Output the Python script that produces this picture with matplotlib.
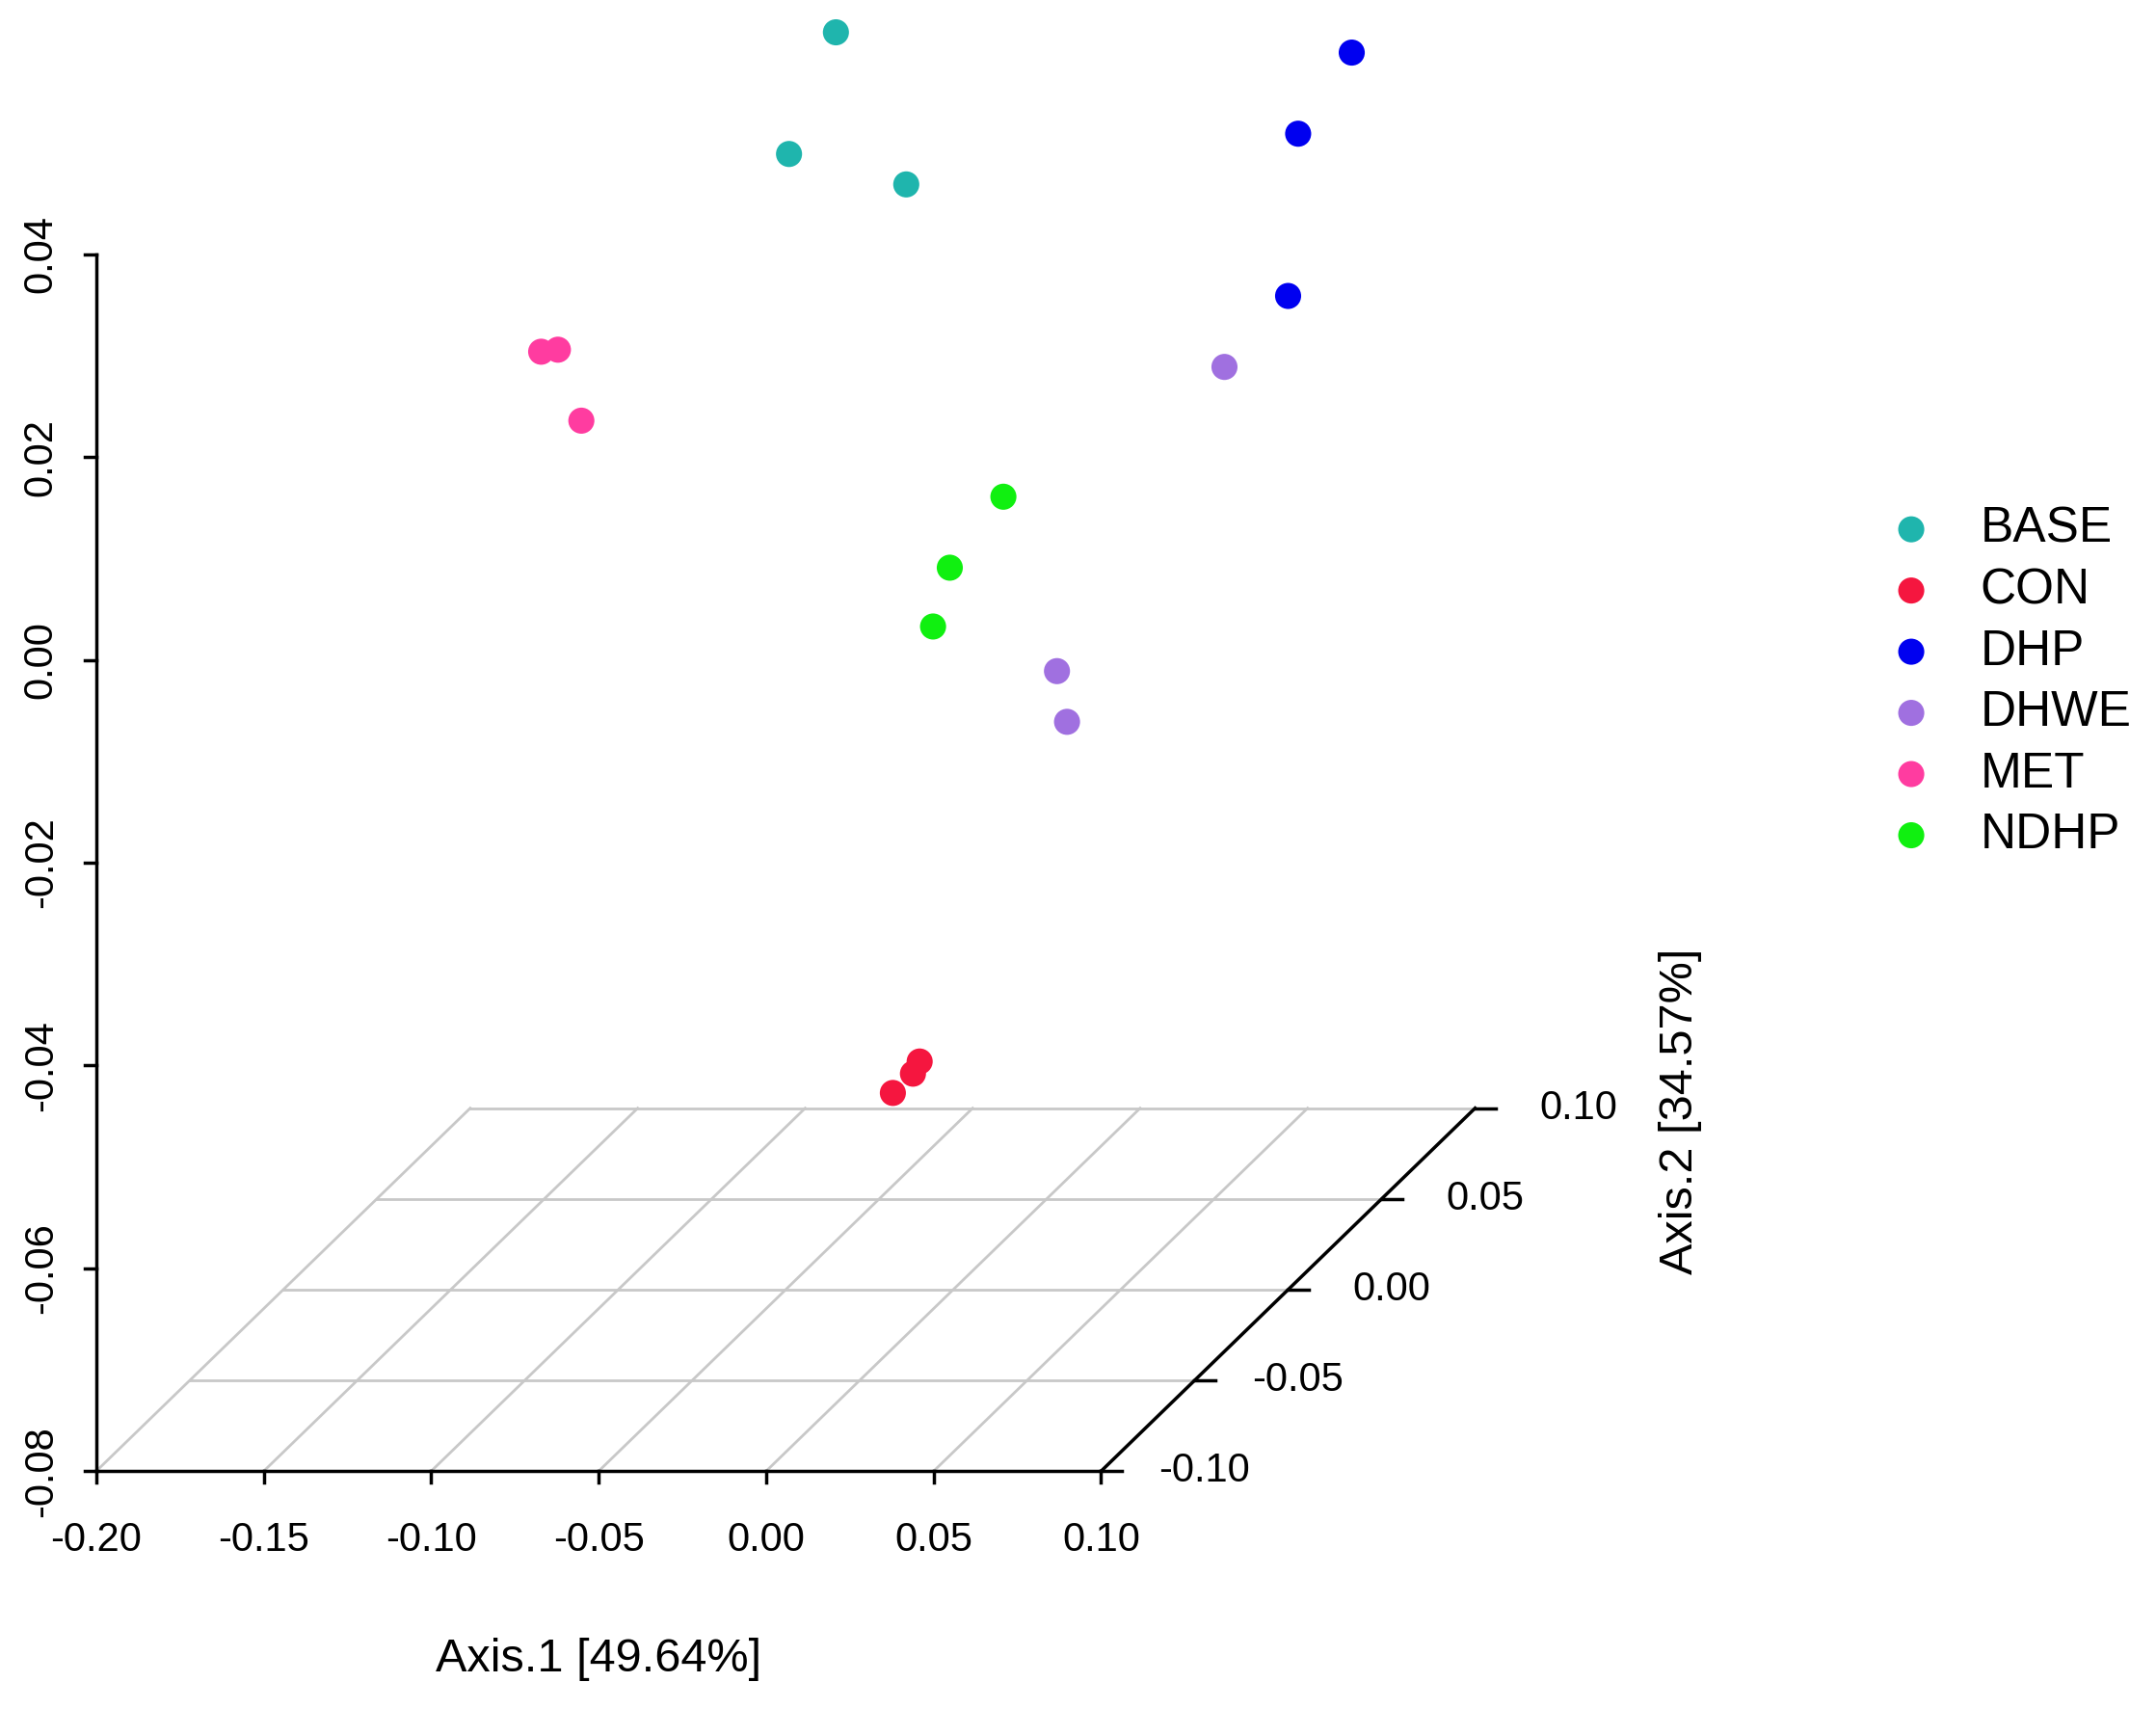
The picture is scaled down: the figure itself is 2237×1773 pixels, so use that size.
import numpy as np
import matplotlib
matplotlib.use('Agg')
import matplotlib.pyplot as plt

# PCoA scores (Axis.1, Axis.2 depth, Axis.3 vertical)
groups = ['BASE', 'CON', 'DHP', 'DHWE', 'MET', 'NDHP']
colors = ['#1FB5AD', '#F5163F', '#0000F0', '#A070E0', '#FF3CA0', '#10F010']
ax1 = {
    'BASE': [-0.035, -0.049, -0.014],
    'CON': [-0.010, -0.012, -0.018],
    'DHP': [0.119, 0.103, 0.100],
    'DHWE': [0.081, 0.031, 0.034],
    'MET': [-0.123, -0.118, -0.111],
    'NDHP': [0.015, -0.001, -0.006],
}
ax2 = {g: [0.0, 0.0, 0.0] for g in groups}
ax3 = {
    'BASE': [0.044, 0.032, 0.029],
    'CON': [-0.0575, -0.0587, -0.0606],
    'DHP': [0.042, 0.034, 0.018],
    'DHWE': [0.011, -0.019, -0.024],
    'MET': [0.0125, 0.0127, 0.0057],
    'NDHP': [-0.0018, -0.0088, -0.0146],
}
xticks = [-0.20, -0.15, -0.10, -0.05, 0.00, 0.05, 0.10]
yticks = [-0.10, -0.05, 0.00, 0.05, 0.10]
zticks = [-0.08, -0.06, -0.04, -0.02, 0.00, 0.02, 0.04]


def proj(x, y, z):
    # scatterplot3d-like oblique projection into a canvas of 1568 x 1243 units
    x = np.asarray(x); y = np.asarray(y); z = np.asarray(z)
    px = 70 + (x + 0.2) * 2436 + (y + 0.1) * 1360
    py = 1070 - (z + 0.08) * 7375 - (y + 0.1) * 1320
    return px, py


fig = plt.figure(figsize=(22.37, 17.73), dpi=100)
ax = fig.add_axes([0, 0, 1, 1])
ax.set_xlim(0, 1568)
ax.set_ylim(1243, 0)
ax.axis('off')

zmin = -0.08
grid_c = '#C8C8C8'
# floor grid
for yv in yticks:
    p = proj([-0.2, 0.1], [yv, yv], [zmin, zmin])
    ax.plot(*p, color=grid_c, lw=2)
for xv in xticks:
    p = proj([xv, xv], [-0.1, 0.1], [zmin, zmin])
    ax.plot(*p, color=grid_c, lw=2)

# axes
ax.plot(*proj([-0.2, 0.1], [-0.1, -0.1], [zmin, zmin]), color='black', lw=2.5)
ax.plot(*proj([0.1, 0.1], [-0.1, 0.1], [zmin, zmin]), color='black', lw=2.5)
ax.plot(*proj([-0.2, -0.2], [-0.1, -0.1], [zmin, 0.04]), color='black', lw=2.5)

tfs = 30
for xv in xticks:
    px, py = proj(xv, -0.1, zmin)
    ax.plot([px, px], [py, py + 8], color='black', lw=2.5)
    ax.text(px, py + 50, f'{xv:.2f}', ha='center', va='center', fontsize=tfs,
            family='Liberation Sans')
for zv in zticks:
    px, py = proj(-0.2, -0.1, zv)
    ax.plot([px, px - 8], [py, py], color='black', lw=2.5)
    ax.text(px - 40, py, f'{zv:.2f}', ha='center', va='center', fontsize=tfs,
            rotation=90, family='Liberation Sans')
for yv in yticks:
    px, py = proj(0.1, yv, zmin)
    ax.plot([px, px + 15], [py, py], color='black', lw=2.5)
    ax.text(px + 75, py, f'{yv:.2f}', ha='center', va='center', fontsize=tfs,
            family='Liberation Sans')

ax.text(435, 1207, 'Axis.1 [49.64%]', ha='center', va='center', fontsize=35,
        family='Liberation Sans')
ax.text(1222, 808, 'Axis.2 [34.57%]', ha='center', va='center', fontsize=35,
        rotation=90, family='Liberation Sans')

# points
for g, c in zip(groups, colors):
    px, py = proj(ax1[g], ax2[g], ax3[g])
    ax.scatter(px, py, s=380, color=c, edgecolors='none', zorder=3)

# legend
for i, (g, c) in enumerate(zip(groups, colors)):
    ly = 385 + i * 44.5
    ax.scatter([1390], [ly], s=380, color=c, edgecolors='none')
    ax.text(1440, ly, g, ha='left', va='center', fontsize=37, family='Liberation Sans')

fig.savefig('out.png', dpi=100)
